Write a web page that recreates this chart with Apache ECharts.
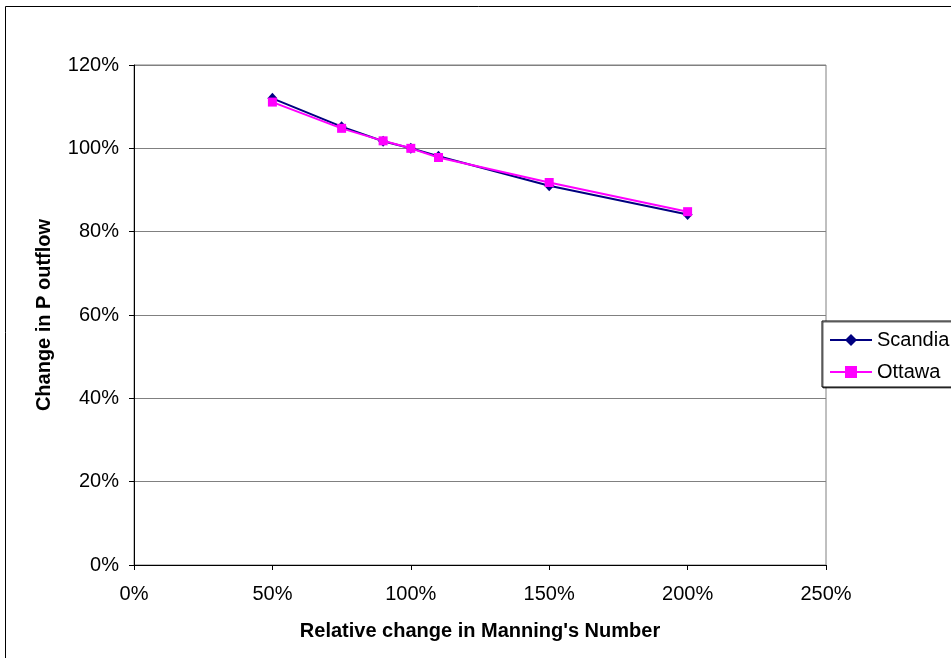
<!DOCTYPE html>
<html>
<head>
<meta charset="utf-8">
<script src="https://cdn.jsdelivr.net/npm/echarts@6/dist/echarts.min.js"></script>
<style>
  html, body { margin: 0; padding: 0; background: #fff; }
  #chart { width: 951px; height: 658px; }
</style>
</head>
<body>
<div id="chart"></div>
<script>
// Relative change in Manning's number (%) and resulting change in P outflow (%)
const manningChange = [50, 75, 90, 100, 110, 150, 200];
const scandia = [112, 105.2, 101.7, 100, 98.1, 91, 84.1];
const ottawa  = [111.1, 104.8, 101.8, 100, 97.8, 91.8, 84.8];

const xTicks = { min: 0, max: 250, step: 50 };
const yTicks = { min: 0, max: 120, step: 20 };

const pairs = (xs, ys) => xs.map((x, i) => [x, ys[i]]);
const pct = v => Math.round(v) + '%';
const FONT = 'Liberation Sans, Arial, sans-serif';

const chart = echarts.init(document.getElementById('chart'), null, { renderer: 'canvas' });
chart.setOption({
  backgroundColor: '#fff',
  animation: false,
  graphic: [{
    type: 'rect',
    shape: { x: 5.5, y: 6.5, width: 1200, height: 1200 },
    style: { fill: 'none', stroke: '#000', lineWidth: 1 },
    silent: true
  }],
  grid: {
    left: 134, top: 65, right: 125, bottom: 93,
    show: true, borderColor: '#808080', borderWidth: 1, backgroundColor: '#fff'
  },
  legend: {
    orient: 'vertical',
    left: 822, top: 321,
    padding: [9, 30, 5, 7],
    itemWidth: 42, itemHeight: 15, itemGap: 12, itemTextGap: 6,
    backgroundColor: '#fff',
    borderColor: '#000', borderWidth: 1,
    shadowColor: 'rgba(0,0,0,0.6)', shadowOffsetX: 1, shadowOffsetY: 1, shadowBlur: 0,
    textStyle: { fontFamily: FONT, fontSize: 20, color: '#000' },
    data: ['Scandia', 'Ottawa']
  },
  xAxis: {
    type: 'value',
    min: xTicks.min, max: xTicks.max, interval: xTicks.step,
    name: "Relative change in Manning's Number",
    nameLocation: 'middle', nameGap: 56,
    nameTextStyle: { fontFamily: FONT, fontSize: 20, fontWeight: 'bold', color: '#000' },
    axisLine: { show: true, onZero: false, lineStyle: { color: '#000', width: 1 } },
    axisTick: { show: true, inside: false, length: 5, lineStyle: { color: '#000' } },
    axisLabel: { formatter: pct, margin: 19, fontFamily: FONT, fontSize: 20, color: '#000' },
    splitLine: { show: false }
  },
  yAxis: {
    type: 'value',
    min: yTicks.min, max: yTicks.max, interval: yTicks.step,
    name: 'Change in P outflow',
    nameLocation: 'middle', nameGap: 80, nameRotate: 90,
    nameTextStyle: { fontFamily: FONT, fontSize: 20, fontWeight: 'bold', color: '#000' },
    axisLine: { show: true, onZero: false, lineStyle: { color: '#000', width: 1 } },
    axisTick: { show: true, inside: false, length: 5, lineStyle: { color: '#000' } },
    axisLabel: { formatter: pct, margin: 15, fontFamily: FONT, fontSize: 20, color: '#000' },
    splitLine: { show: true, lineStyle: { color: '#808080', width: 1 } }
  },
  series: [
    {
      name: 'Scandia',
      type: 'line',
      data: pairs(manningChange, scandia),
      symbol: 'diamond', symbolSize: [10, 11],
      itemStyle: { color: '#000080' },
      lineStyle: { color: '#000080', width: 2 },
      z: 2
    },
    {
      name: 'Ottawa',
      type: 'line',
      data: pairs(manningChange, ottawa),
      symbol: 'rect', symbolSize: 9,
      itemStyle: { color: '#FF00FF' },
      lineStyle: { color: '#FF00FF', width: 2 },
      z: 3
    }
  ]
});
</script>
</body>
</html>
